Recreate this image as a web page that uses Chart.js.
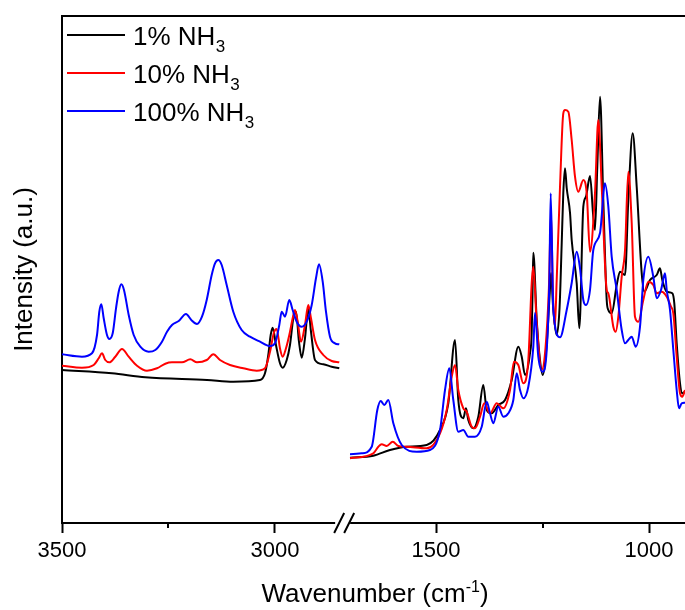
<!DOCTYPE html>
<html>
<head>
<meta charset="utf-8">
<script src="https://cdn.jsdelivr.net/npm/chart.js@4.4.1/dist/chart.umd.min.js"></script>
<style>
  html, body { margin: 0; padding: 0; background: #fff; }
  #wrap { width: 685px; height: 610px; }
</style>
</head>
<body>
<div id="wrap"><canvas id="irChart" width="685" height="610"></canvas></div>
<script>
// [wavenumber (cm-1), intensity (a.u.)]

// high wavenumber panel (3500 - 2840)
const highBlack = [[3500,153],[3382.6,149.7],[3304.5,145.7],[3159.6,143],[3097.9,141.3],[3035.2,143],[3023.5,149.7],[3015.7,168],[3010.1,188],[3005.4,195.3],[2997.7,178],[2988.3,159.7],[2982,155.3],[2972.5,163],[2964.8,178],[2957,204.7],[2950.7,211.3],[2943.7,181.3],[2937.3,165.3],[2929.6,184.7],[2921.8,214.7],[2915.5,191.3],[2906.1,163],[2886.6,158.7],[2866.9,156.3],[2849.1,154.7]];
const highRed = [[3500,157.3],[3453.1,155.3],[3425.6,158],[3413.8,164.7],[3406.1,169.7],[3398.4,163],[3388.9,160.7],[3374.9,166.3],[3359.2,174],[3343.4,166.3],[3323.9,157.3],[3300.5,152.3],[3277,154.7],[3257.5,159.3],[3241.8,160.7],[3218.3,160.7],[3198.8,163.7],[3183.1,160.7],[3160.3,163],[3144.8,168.7],[3129.1,163],[3105.6,158],[3074.4,154.7],[3043,152.3],[3023.5,154.7],[3011.7,171.3],[3002.3,190.7],[2996,194],[2988.3,174.7],[2982,166.3],[2974.2,174.7],[2966.4,188],[2958.5,204.7],[2953.1,213],[2946.7,201.3],[2939,181.3],[2929.6,198],[2921.8,218],[2915.5,204.7],[2906.1,183],[2886.6,168],[2866.9,162],[2849.1,160.7]];
const highBlue = [[3500,168.7],[3453.1,166.3],[3429.6,169.7],[3417.8,188],[3412.4,211.3],[3407.7,218.7],[3402.1,204.7],[3394.4,188],[3388.9,184],[3381,189.7],[3373.2,214.7],[3366.9,231.3],[3360.8,238.7],[3354.5,233],[3343.4,208],[3331.7,188],[3316.2,176.3],[3296.5,171.3],[3281,173],[3265.3,181.3],[3253.5,191.3],[3241.8,198],[3226.1,202],[3208.9,209],[3196.5,203],[3183.1,199],[3171.4,206.3],[3160.3,223],[3148.6,248],[3140.8,259.7],[3133.1,263],[3125.1,258],[3113.4,238],[3097.9,211.3],[3078.2,193],[3058.7,186.3],[3035.2,181.3],[3011.7,177],[3000,179.7],[2989.9,198],[2984.3,211.3],[2976.5,206.3],[2966.4,223],[2958.5,213],[2949.1,201.3],[2937.3,196.3],[2925.6,201.3],[2913.8,218],[2903.8,244.7],[2896.7,258.7],[2888,241.3],[2880.3,211.3],[2870.9,186.3],[2859.2,179.7],[2849.1,178.7]];

// low wavenumber panel (1718 - 915)
const lowBlack = [[1701.9,65.3],[1647.2,67.3],[1608,73],[1568.8,76.3],[1521.8,78],[1490.6,93],[1471.1,119.7],[1455.4,183],[1447.7,123],[1435.9,104.7],[1429.6,114.7],[1424.2,103],[1412.4,94.7],[1400.7,106.3],[1389,138],[1381,113],[1369.3,109.7],[1353.8,118],[1338,123],[1322.3,143],[1306.8,176.3],[1298.8,166.3],[1291,148],[1279.3,170],[1275.4,190],[1273,240],[1271.6,270.3],[1263.6,203],[1255.9,163],[1249.5,148],[1240,180],[1233,230],[1230,250],[1225,215],[1217,188],[1210,215],[1204.9,280],[1201.2,330],[1197.2,354.7],[1193.2,335],[1185.4,310],[1181.5,283],[1169.7,239.7],[1163.6,194.7],[1154.2,316.3],[1147.9,326.3],[1138.5,347],[1130.8,306.3],[1126.8,293],[1121.4,356.3],[1115,426.3],[1107.3,323],[1099.3,223],[1095.5,213],[1087.6,209.7],[1075.8,238],[1068.1,251.3],[1056.3,248],[1048.6,323],[1038.3,389.7],[1028.9,336.3],[1017.1,249.7],[1011,231.3],[997.7,243],[981.9,248],[974.2,254.7],[968.8,243],[958.4,231.3],[945.3,229.7],[940.6,219.7],[935,179.7],[927.2,139.7],[921.8,129.7],[915.5,131.3]];
const lowRed = [[1701.9,64.7],[1647.2,69.7],[1635.4,76.3],[1627.5,78.7],[1615.7,77],[1601.6,81.3],[1588.5,77],[1568.8,76.3],[1521.8,74.7],[1490.6,89.7],[1474.9,113],[1463.1,146.3],[1455.4,158],[1447.7,133],[1435.9,114.7],[1428,111.3],[1416.2,96.3],[1408.5,94.7],[1396.7,106.3],[1386.6,119.7],[1373.2,109.7],[1357.5,119.7],[1342,114.7],[1326.3,133],[1316.9,161.3],[1306.8,158],[1295.1,139.7],[1283.3,163],[1275.4,239.7],[1271.6,256.3],[1263.6,200],[1251.9,153],[1243,175],[1235,235],[1230,310],[1225.5,230],[1221,196],[1216.7,243],[1208.9,336.3],[1201.2,409.7],[1197.2,413],[1189.4,411.3],[1181.5,383],[1173.7,346.3],[1166,331.3],[1154.2,343],[1146.2,329.7],[1138.5,271.3],[1126.8,329.7],[1119,403],[1111,336.3],[1099.3,233],[1095.5,229.7],[1083.8,196.3],[1078.2,191.3],[1072,206.3],[1064.1,246.3],[1056.3,273],[1048.6,351.3],[1040.6,300],[1032.9,206.3],[1025.1,201.3],[1013.4,223],[1001.6,241.3],[989.9,238],[981.9,229.7],[970.2,231.3],[958.4,226.3],[948.3,216.3],[942.9,209.7],[935,166.3],[927.2,129.7],[921.8,126.3],[915.5,133]];
const lowBlue = [[1701.9,68.7],[1674.4,69.7],[1650.9,76.3],[1637.8,113],[1629.8,122],[1621.4,118],[1612,123],[1600.2,99.7],[1580.5,78],[1545.3,71.3],[1514.1,73],[1490.6,93],[1478.9,133],[1468.8,154.7],[1459.4,123],[1447.7,91.3],[1435.9,93],[1424.2,86.3],[1408.5,86.3],[1392.7,96.3],[1381,121.3],[1373.2,109.7],[1365.5,99.7],[1353.8,116.3],[1342,106.3],[1330.3,109.7],[1318.5,123],[1310.6,149.7],[1302.8,133],[1295.1,124.7],[1283.3,136.3],[1271.6,176.3],[1267.6,210],[1259.9,166.3],[1249.5,151.3],[1240.1,173],[1234,240],[1230.8,329.7],[1224.6,213],[1208.9,185.7],[1193.2,213],[1181.5,240],[1169.7,271.3],[1162,254.7],[1154.2,223],[1147.9,218],[1138.5,233],[1130.8,273],[1115,290],[1103.3,339.7],[1095.5,316.3],[1087.6,266.3],[1075.8,233],[1064.1,193],[1056.3,179.7],[1048.6,183],[1040.6,186.3],[1031.2,176.3],[1021.1,196.3],[1013.4,243],[1001.6,266.3],[989.9,246.3],[981.9,224.7],[971.8,233],[962.4,249.7],[958.4,233],[950.7,213],[942.9,173],[935,133],[929.6,114.7],[923.3,119.7],[915.5,120.3]];

const seriesLabels = ['1% NH', '10% NH', '100% NH'];
const seriesSub = '3';
const seriesColors = ['#000000', '#ff0000', '#0000ff'];

const highRange = [2840, 3500];
const lowRange = [915.5, 1718];
const highTicks = [3500, 3000];
const lowTicks = [1500, 1000];
const highMinor = [3250];
const lowMinor = [1250];
const yRange = [0, 507];

const FONT = "'Liberation Sans', Arial, sans-serif";

function makeSet(points, i, axis) {
    return {
        label: seriesLabels[i] + seriesSub,
        data: points,
        xAxisID: axis,
        borderColor: seriesColors[i],
        borderWidth: 2,
        pointRadius: 0,
        pointHoverRadius: 0,
        cubicInterpolationMode: 'monotone',
        fill: false,
        order: 2 - i   // blue drawn on top
    };
}

function xScale(range, ticks, weight) {
    return {
        type: 'linear',
        position: 'bottom',
        stack: 'wn',
        stackWeight: weight,
        reverse: true,
        min: range[0],
        max: range[1],
        afterBuildTicks: s => { s.ticks = ticks.map(v => ({ value: v })); },
        afterFit: s => {
            s.height = 87;
            // no extra room for edge labels, the panels must fill the frame
            s.paddingLeft = 0;
            s.paddingRight = 0;
        },
        ticks: {
            autoSkip: false,
            maxRotation: 0,
            padding: 5,
            color: '#000',
            font: { family: FONT, size: 22 },
            callback: v => String(v)
        },
        grid: {
            display: true,
            drawOnChartArea: false,
            tickLength: 10,
            tickWidth: 2,
            tickColor: '#000'
        },
        border: { display: true, color: '#000', width: 2 }
    };
}

// frame top, minor ticks, axis break, legend with subscripts, x title with superscript
const decorPlugin = {
    id: 'decor',
    afterDraw(chart) {
        const { ctx, chartArea: a, scales } = chart;
        ctx.save();
        ctx.strokeStyle = '#000';
        ctx.lineWidth = 2;

        ctx.beginPath();
        ctx.moveTo(a.left - 1, a.top);
        ctx.lineTo(a.right, a.top);
        ctx.stroke();

        // minor ticks
        const minor = [[scales.xHigh, highMinor], [scales.xLow, lowMinor]];
        minor.forEach(([sc, vals]) => {
            vals.forEach(v => {
                const px = Math.round(sc.getPixelForValue(v));
                ctx.beginPath();
                ctx.moveTo(px, a.bottom);
                ctx.lineTo(px, a.bottom + 5);
                ctx.stroke();
            });
        });

        // axis break
        const xb = scales.xHigh.right;
        ctx.fillStyle = '#fff';
        ctx.fillRect(xb - 8, a.bottom - 3, 15, 6);
        ctx.beginPath();
        ctx.moveTo(xb - 9, a.bottom + 10);
        ctx.lineTo(xb + 1, a.bottom - 10);
        ctx.moveTo(xb + 1, a.bottom + 10);
        ctx.lineTo(xb + 11, a.bottom - 10);
        ctx.stroke();

        // legend
        ctx.fillStyle = '#000';
        ctx.textBaseline = 'alphabetic';
        ctx.textAlign = 'left';
        seriesLabels.forEach((lab, i) => {
            const y = a.top + 19 + i * 38;
            ctx.strokeStyle = seriesColors[i];
            ctx.beginPath();
            ctx.moveTo(a.left + 5, y);
            ctx.lineTo(a.left + 63, y);
            ctx.stroke();
            ctx.font = '26px ' + FONT;
            ctx.fillText(lab, a.left + 71, y + 10);
            const w = ctx.measureText(lab).width;
            ctx.font = '17px ' + FONT;
            ctx.fillText(seriesSub, a.left + 71 + w + 0.5, y + 16.5);
        });

        // x axis title
        const main = 'Wavenumber (cm', sup = '-1', close = ')';
        ctx.font = '26px ' + FONT;
        const wMain = ctx.measureText(main).width;
        const wClose = ctx.measureText(close).width;
        ctx.font = '16px ' + FONT;
        const wSup = ctx.measureText(sup).width;
        let x = (a.left + a.right) / 2 - (wMain + wSup + wClose) / 2 + 1.5;
        const base = 602;
        ctx.font = '26px ' + FONT;
        ctx.fillText(main, x, base);
        x += wMain;
        ctx.font = '16px ' + FONT;
        ctx.fillText(sup, x, base - 10);
        x += wSup;
        ctx.font = '26px ' + FONT;
        ctx.fillText(close, x, base);
        ctx.restore();
    }
};

const chart = new Chart(document.getElementById('irChart'), {
    type: 'line',
    data: {
        datasets: [
            makeSet(highBlack, 0, 'xHigh'),
            makeSet(highRed, 1, 'xHigh'),
            makeSet(highBlue, 2, 'xHigh'),
            makeSet(lowBlack, 0, 'xLow'),
            makeSet(lowRed, 1, 'xLow'),
            makeSet(lowBlue, 2, 'xLow')
        ]
    },
    options: {
        responsive: false,
        animation: false,
        devicePixelRatio: 1,
        layout: { autoPadding: false, padding: { top: 16, left: 0, right: 0, bottom: 0 } },
        plugins: { legend: { display: false }, tooltip: { enabled: false } },
        scales: {
            xHigh: xScale(highRange, highTicks, highRange[1] - highRange[0]),
            xLow: xScale(lowRange, lowTicks, lowRange[1] - lowRange[0]),
            y: {
                type: 'linear',
                position: 'left',
                min: yRange[0],
                max: yRange[1],
                afterFit: s => { s.width = 62; },
                ticks: { display: false },
                grid: { display: false },
                border: { display: true, color: '#000', width: 2 },
                title: {
                    display: true,
                    text: 'Intensity (a.u.)',
                    color: '#000',
                    font: { family: FONT, size: 26 },
                    padding: { top: 9, bottom: 0 }
                }
            }
        }
    },
    plugins: [decorPlugin]
});
</script>
</body>
</html>
